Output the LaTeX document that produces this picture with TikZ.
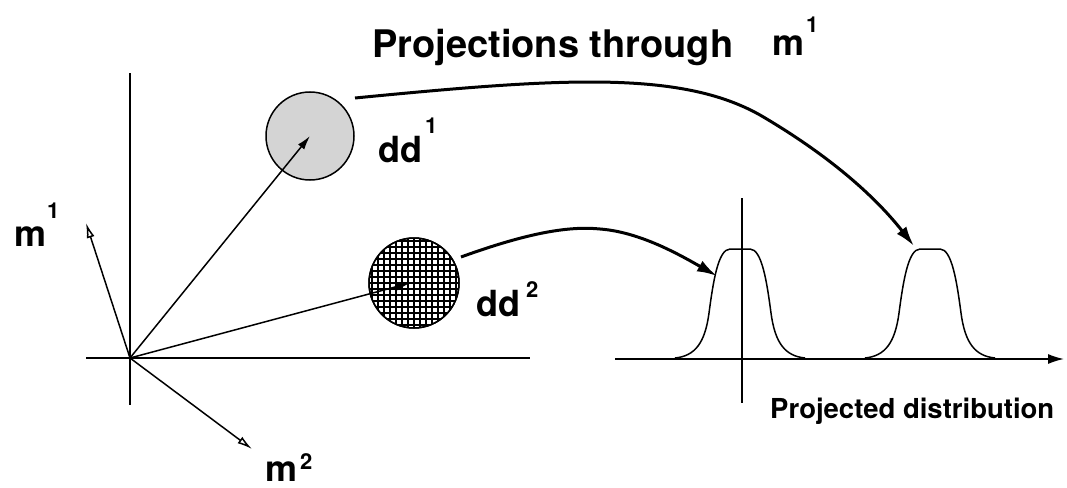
\documentclass[tikz,border=0pt]{standalone}
\usepackage{fontspec}
\setmainfont{TeX Gyre Heros}
\usetikzlibrary{arrows.meta}
\begin{document}
\begin{tikzpicture}[x=1pt,y=-1pt,
  lbl/.style={inner sep=0pt, anchor=base west, font=\bfseries\fontsize{36}{40}\selectfont},
  ttl/.style={inner sep=0pt, anchor=base west, font=\bfseries\fontsize{38}{42}\selectfont},
  sml/.style={inner sep=0pt, anchor=base west, font=\bfseries\fontsize{27.5}{30}\selectfont},
  supr/.style={inner sep=0pt, anchor=base west, font=\bfseries\fontsize{22}{24}\selectfont},
  axisline/.style={line width=1.5pt},
  vec/.style={line width=1.5pt, -{Latex[length=14pt,width=8pt]}},
  ovec/.style={line width=1.5pt, -{Latex[open,length=15pt,width=8pt]}},
  proj/.style={line width=3pt, -{Latex[length=20pt,width=12pt]}},
  peakline/.style={line width=1.5pt},
  disc/.style={circle, draw, line width=1.5pt, inner sep=0pt}]
\useasboundingbox (0,0) rectangle (1067,487);

% left axes
\coordinate (o) at (130,358);
\coordinate (ltop) at (130,73);
\coordinate (lbot) at (130,405);
\coordinate (lleft) at (86,358);
\coordinate (lright) at (530,358);
\draw[axisline] (ltop) -- (lbot);
\draw[axisline] (lleft) -- (lright);

% discs
\node[disc, minimum size=88pt, fill=black!17] (c1) at (310,136) {};
\node[disc, minimum size=90pt, fill=white,
  path picture={\draw[line width=1.2pt, step=6pt] ([shift={(-3pt,-3pt)}]path picture bounding box.south west) grid ([shift={(3pt,3pt)}]path picture bounding box.north east);}] (c2) at (414,283) {};
\node[disc, minimum size=90pt] at (c2) {};

% vectors
\coordinate (m1tip) at (86,223);
\coordinate (m2tip) at (252,449);
\draw[ovec] (o) -- (m1tip);
\draw[ovec] (o) -- (m2tip);
\draw[vec] (o) -- (c1.center);
\draw[vec] (o) -- (410,283) coordinate (c2tip);

% labels
\node[lbl] (m1) at (14,246) {m};
\node[supr] (m1s) at (47,218) {1};
\node[lbl] (m2) at (265,481) {m};
\node[supr] (m2s) at (300,469) {2};
\node[lbl] (dd1) at (378,162) {dd};
\node[supr] (dd1s) at (425,133) {1};
\node[lbl] (dd2) at (476,316) {dd};
\node[supr] (dd2s) at (526,297) {2};

% title
\node[ttl] (title) at (372,57) {Projections through};
\node[lbl] (tm) at (772,56) {m};
\node[supr] (tms) at (806,33) {1};

% right axes
\coordinate (rleft) at (615,359);
\coordinate (rright) at (1064,359);
\coordinate (rtop) at (742,198);
\coordinate (rbot) at (742,403);
\draw[axisline, -{Latex[length=16pt,width=10pt]}] (rleft) -- (rright);
\draw[axisline] (rtop) -- (rbot);

% peaks
\foreach \cx/\nm in {740/p1, 930/p2}{
  \begin{scope}[shift={(\cx,358)}]
    \draw[peakline] (-65,0) .. controls (-45,-2) and (-35,-15) .. (-31,-45)
      .. controls (-27,-75) and (-22,-109) .. (-10,-109) -- (10,-109)
      .. controls (22,-109) and (27,-75) .. (31,-45)
      .. controls (35,-15) and (45,-2) .. (65,0);
    \coordinate (\nm) at (0,-109);
  \end{scope}
}

\node[sml] (pd) at (770,418) {Projected distribution};

% projection arrows
\coordinate (s1) at (355,98);
\coordinate (t1) at (914,246);
\coordinate (s2) at (461,257);
\coordinate (t2) at (717,276);
\draw[proj] (s1) .. controls (560,78) and (680,70) .. (760,115)
  .. controls (820,150) and (870,190) .. (t1);
\draw[proj] (s2) .. controls (530,232) and (570,226) .. (600,229)
  .. controls (640,232) and (680,255) .. (t2);
\end{tikzpicture}
\end{document}
